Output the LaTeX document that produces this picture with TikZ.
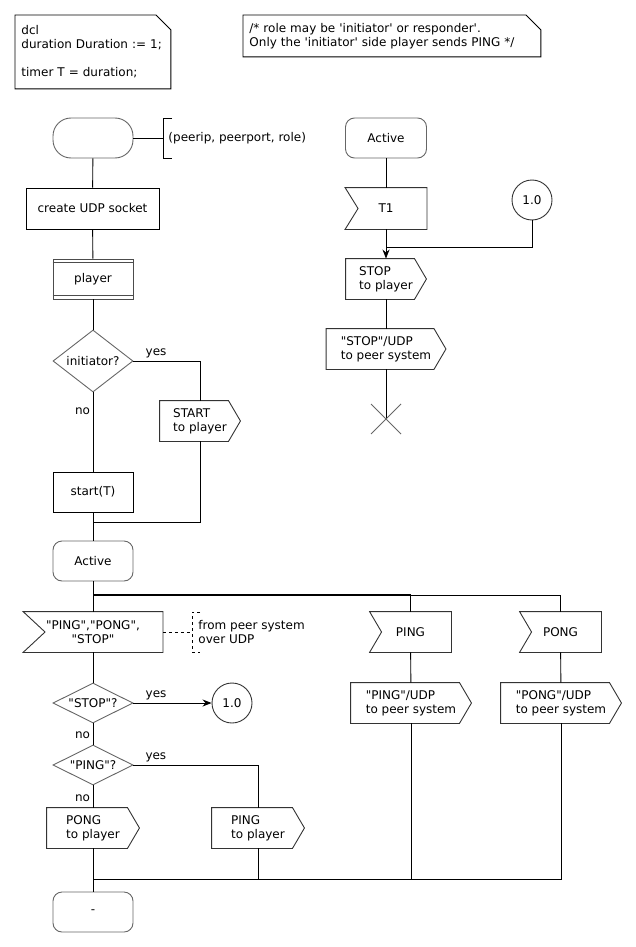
\documentclass[tikz,border=0pt]{standalone}
\usepackage{fontspec}
\setmainfont{DejaVu Sans}[Ligatures=TeXOff]
\usetikzlibrary{arrows.meta, shapes.geometric}

\begin{document}
\begin{tikzpicture}[
  x=1pt, y=-1pt, line width=0.9pt,
  every node/.style = {font=\fontsize{12}{14}\selectfont, inner sep=0pt},
  task/.style     = {rectangle, draw=black, minimum height=40pt},
  sdlstate/.style = {rectangle, draw=black!60, rounded corners=9pt,
                     minimum width=80pt, minimum height=40pt},
  startsym/.style = {rectangle, draw=black!60, rounded corners=18pt,
                     minimum width=80pt, minimum height=40pt},
  proc/.style     = {rectangle, draw=black!70, minimum width=80pt, minimum height=40pt,
                     append after command={\pgfextra{
                       \draw[black!70] ([yshift=-4pt]\tikzlastnode.north west) -- ([yshift=-4pt]\tikzlastnode.north east);
                       \draw[black!70] ([yshift=4pt]\tikzlastnode.south west) -- ([yshift=4pt]\tikzlastnode.south east);}}},
  decision/.style = {diamond, draw=black!60, aspect=2, minimum width=80pt},
  conn/.style     = {circle, draw=black!80, minimum size=40pt},
  recvsig/.style  = {rectangle, minimum height=40pt, align=center,
                     append after command={\pgfextra{\draw[black!80]
                       (\tikzlastnode.north west) -- (\tikzlastnode.north east) -- (\tikzlastnode.south east)
                       -- (\tikzlastnode.south west) -- ([xshift=#1]\tikzlastnode.west) -- cycle;}}},
  recvsig/.default = 12pt,
  sendsig/.style  = {rectangle, minimum height=40pt, align=left,
                     append after command={\pgfextra{\draw[black!80]
                       (\tikzlastnode.north west) -- ([xshift=-12pt]\tikzlastnode.north east) -- (\tikzlastnode.east)
                       -- ([xshift=-12pt]\tikzlastnode.south east) -- (\tikzlastnode.south west) -- cycle;}}},
  note/.style     = {rectangle, text width=#1, inner xsep=6pt, align=left, anchor=north west,
                     append after command={\pgfextra{\draw
                       (\tikzlastnode.north west) -- ([xshift=-15pt]\tikzlastnode.north east)
                       -- ([yshift=-15pt]\tikzlastnode.north east) -- (\tikzlastnode.south east)
                       -- (\tikzlastnode.south west) -- cycle;}}},
  cmt/.style      = {anchor=west, align=left},
  lbl/.style      = {inner sep=2.5pt},
  arr/.style      = {-{Stealth[length=9pt, width=7pt]}}
]
\useasboundingbox (0,0) rectangle (636,947);

%% ── Text symbols ─────────────────────────────────────────────────────────────
\node[note=143pt, minimum height=73pt] (dclNote)  at (15,15)
      {dcl\\duration Duration := 1;\\[14pt]timer T = duration;};
\node[note=285pt, minimum height=41pt] (roleNote) at (243,15)
      {/* role may be 'initiator' or responder'.\\Only the 'initiator' side player sends PING */};

%% ── Start transition ─────────────────────────────────────────────────────────
\node[startsym]                      (start)     at (93,138)    {};
\node[task, minimum width=133pt, minimum height=41pt] (socket) at (92.5,208.5) {create UDP socket};
\node[proc]                          (player)    at (93,279)    {player};
\node[decision, aspect=1.3, minimum height=62pt] (initQ) at (93,361) {initiator?};
\node[sendsig, minimum width=80pt]   (startOut)  at (200,421)   {START\\to player};
\node[task, minimum width=80pt]      (startT)    at (93,492)    {start(T)};
\node[sdlstate]                      (active)    at (93,561)    {Active};

%% ── Inputs in state Active ───────────────────────────────────────────────────
\node[recvsig=22pt, minimum width=139pt] (inMsg) at (93,632)    {"PING","PONG",\\"STOP"};
\node[decision, minimum height=40pt] (stopQ)     at (93,703)    {"STOP"?};
\node[conn]                          (toStop)    at (232,703)   {1.0};
\node[decision, minimum height=40pt] (pingQ)     at (93,765)    {"PING"?};
\node[sendsig, minimum width=92pt]   (pongPlayer) at (93,828)   {PONG\\to player};
\node[sendsig, minimum width=92pt]   (pingPlayer) at (258,828)  {PING\\to player};
\node[sdlstate]                      (dash)      at (93,912)    {-};

\node[recvsig, minimum width=81pt]   (inPing)    at (410.5,632) {PING};
\node[sendsig, minimum width=120pt]  (pingUdp)   at (411,703)   {"PING"/UDP\\to peer system};
\node[recvsig, minimum width=81pt]   (inPong)    at (560.5,632) {PONG};
\node[sendsig, minimum width=120pt]  (pongUdp)   at (561,703)   {"PONG"/UDP\\to peer system};

%% ── Timer expiry / stop ──────────────────────────────────────────────────────
\node[sdlstate, minimum width=81pt]  (activeT)   at (386,138)   {Active};
\node[recvsig=13pt, minimum width=81pt, minimum height=41pt] (inT1) at (386,208.5) {T1};
\node[conn]                          (fromStop)  at (532,200)   {1.0};
\node[sendsig, minimum width=80pt]   (stopPlayer) at (386,279)  {STOP\\to player};
\node[sendsig, minimum width=119pt]  (stopUdp)   at (386,349)   {"STOP"/UDP\\to peer system};

\coordinate (cmtStart) at (163,138);
\coordinate (cmtMsg)   at (192,632);
\coordinate (mergeA)   at (93,522);
\coordinate (forkA)    at (93,594);
\coordinate (forkB)    at (93,595.2);
\coordinate (mergeB)   at (93,879);
\coordinate (mergeT)   at (386,247);
\coordinate (halt)     at (386,419);

%% ── Comments ─────────────────────────────────────────────────────────────────
\draw (start.east) -- (cmtStart);
\draw (172,118) -- (163,118) -- (163,158) -- (172,158);
\node[cmt] (cmtStartTxt) at (168,138) {(peerip, peerport, role)};
\draw[dashed] (inMsg.east) -- (cmtMsg);
\draw[dashed] (200,612) -- (192,612) -- (192,652) -- (200,652);
\node[cmt] (cmtMsgTxt) at (198,632) {from peer system\\over UDP};

%% ── Flow lines ───────────────────────────────────────────────────────────────
\draw (start) -- (socket);
\draw (socket) -- (player);
\draw (player) -- (initQ);
\draw (initQ.east) -| node[lbl, pos=0.17, above]{yes} (startOut.north);
\draw (initQ.south) -- node[lbl, pos=0.24, left]{no} (startT.north);
\draw (startOut.south) |- (mergeA);
\draw (startT) -- (active);

\draw (active) -- (inMsg);
\draw (active.south) -- (forkA) -| (inPing.north);
\draw (forkB) -| (inPong.north);
\draw (inMsg) -- (stopQ);
\draw[arr] (stopQ.east) -- node[lbl, pos=0.29, above]{yes} (toStop.west);
\draw (stopQ.south) -- node[lbl, pos=0.55, left]{no} (pingQ.north);
\draw (pingQ.east) -| node[lbl, pos=0.09, above]{yes} (pingPlayer.north);
\draw (pingQ.south) -- node[lbl, pos=0.56, left]{no} (pongPlayer.north);
\draw (inPing) -- (pingUdp);
\draw (inPong) -- (pongUdp);
\draw (pongPlayer) -- (dash);
\draw (pingPlayer.south) |- (mergeB);
\draw (pingUdp.south) |- (mergeB);
\draw (pongUdp.south) |- (mergeB);

\draw (activeT) -- (inT1);
\draw[arr] (inT1) -- (stopPlayer);
\draw (fromStop.south) |- (mergeT);
\draw (stopPlayer) -- (stopUdp);
\draw (stopUdp.south) -- (halt);
\draw[black!60] ([xshift=-15pt, yshift=15pt]halt) -- ([xshift=15pt, yshift=-15pt]halt);
\draw[black!60] ([xshift=15pt, yshift=15pt]halt) -- ([xshift=-15pt, yshift=-15pt]halt);

\end{tikzpicture}
\end{document}
